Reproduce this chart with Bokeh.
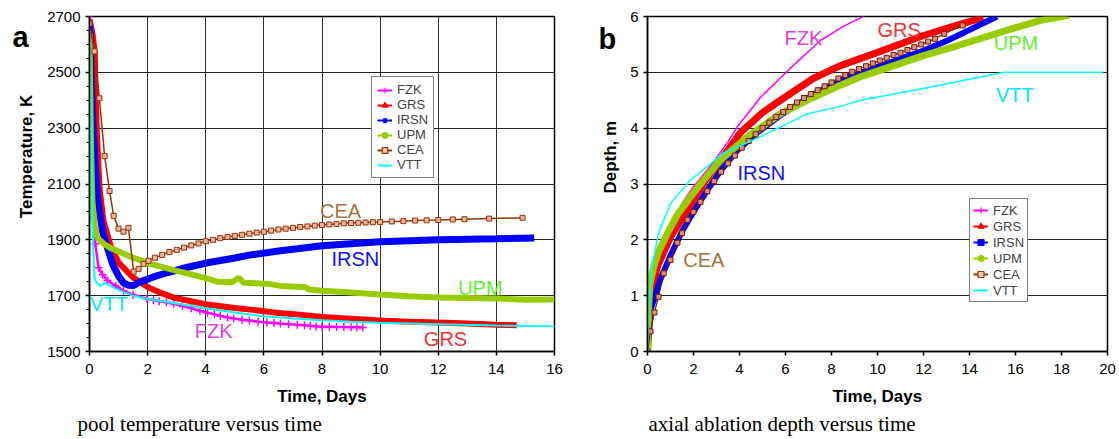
import math
from bokeh.plotting import figure
from bokeh.models import Range1d, FixedTicker, Legend, LegendItem, Label, Title
from bokeh.core.properties import value
from bokeh.layouts import row
from bokeh.embed import file_html
from bokeh.resources import INLINE

# ---------------- data: panel a (pool temperature, K vs days) ----------------
series_names = ["FZK", "GRS", "IRSN", "UPM", "CEA", "VTT"]

fzk_t_a = [0, 0.05, 0.1, 0.14, 0.2, 0.31, 0.45, 0.62, 0.9, 1.17, 1.5, 1.98, 2.2, 2.4, 2.65, 2.9, 3.2, 3.5, 3.8,
           4.06, 4.3, 4.5, 4.75, 4.96, 5.25, 5.5, 5.8, 6.1, 6.35, 6.57, 6.85, 7.15, 7.4, 7.6, 7.8, 8.0, 8.25,
           8.5, 8.75, 9.0, 9.2, 9.4]
fzk_T_a = [2700, 2400, 2100, 1980, 1886, 1800, 1775, 1754, 1735, 1718, 1703, 1689, 1684, 1680, 1676, 1671, 1663,
           1655, 1646, 1639, 1633, 1628, 1622, 1618, 1614, 1611, 1607, 1604, 1602, 1600, 1598, 1596, 1594, 1592,
           1590, 1589, 1588.5, 1588, 1587.5, 1587, 1586.5, 1586]

grs_t_a = [0, 0.1, 0.18, 0.21, 0.25, 0.3, 0.35, 0.48, 0.72, 1.0, 1.5, 2.03, 2.5, 2.9, 3.5, 4.06, 5.0, 5.54, 6.5,
           7.15, 8.0, 9.0, 10.0, 11.0, 12.0, 13.0, 14.0, 14.7]
grs_T_a = [2690, 2640, 2575, 2425, 2290, 2180, 2080, 1968, 1880, 1818, 1765, 1729, 1708, 1693, 1680, 1668, 1656,
           1650, 1638, 1633, 1624, 1617, 1611, 1607, 1604, 1600, 1596, 1594]

irsn_t_a = [0, 0.05, 0.1, 0.2, 0.3, 0.45, 0.62, 0.8, 1.0, 1.17, 1.35, 1.5, 1.7, 1.86, 2.2, 2.67, 3.3, 4.06, 5.0,
            5.54, 6.57, 7.15, 8.0, 9.0, 10.0, 11.0, 12.0, 13.0, 14.0, 15.3]
irsn_T_a = [2680, 2500, 2360, 2160, 2030, 1930, 1871, 1812, 1770, 1746, 1737, 1736, 1747, 1754, 1767, 1782, 1800,
            1818, 1835, 1846, 1861, 1868, 1879, 1886, 1893, 1897, 1900, 1902, 1904, 1907]

upm_t_a = [0, 0.03, 0.06, 0.1, 0.18, 0.27, 0.5, 0.72, 1.0, 1.5, 2.1, 3.0, 3.5, 4.06, 4.4, 4.9, 5.14, 5.3, 6.1,
           6.57, 7.15, 7.45, 7.55, 8.0, 9.0, 10.0, 11.0, 12.0, 13.0, 14.0, 15.0, 16.0]
upm_T_a = [2640, 2400, 2200, 2040, 1950, 1907, 1885, 1871, 1858, 1836, 1814, 1789, 1776, 1761, 1750, 1748, 1764,
           1746, 1743, 1735, 1732, 1730, 1722, 1718, 1711, 1704, 1698, 1693, 1692, 1690, 1685, 1686]

cea_t_a = [0, 0.17, 0.34, 0.52, 0.69, 0.83, 1.0, 1.17, 1.34, 1.52, 1.69, 1.86, 2.03, 2.25, 2.5, 2.75, 3.0, 3.25,
           3.5, 3.75, 4.0, 4.25, 4.5, 4.75, 5.0, 5.25, 5.5, 5.75, 6.0, 6.25, 6.5, 6.75, 7.0, 7.25, 7.5, 7.75, 8.0,
           8.25, 8.5, 8.75, 9.0, 9.25, 9.5, 9.75, 10.0, 10.4, 10.8, 11.2, 11.6, 12.0, 12.5, 12.9, 13.75, 14.9]
cea_T_a = [2675, 2575, 2407, 2200, 2075, 1986, 1940, 1929, 1943, 1786, 1796, 1814, 1825, 1836, 1846, 1856, 1864,
           1872, 1880, 1887, 1895, 1900, 1906, 1910, 1914, 1918, 1922, 1926, 1929, 1933, 1937, 1940, 1943, 1946,
           1948, 1951, 1953, 1955, 1957, 1959, 1960, 1961, 1962, 1963, 1964, 1966, 1967, 1969, 1970, 1971, 1973,
           1974, 1976, 1979]

vtt_t_a = [0, 0.05, 0.1, 0.17, 0.25, 0.38, 0.55, 0.83, 1.2, 1.5, 2.0, 3.0, 4.0, 5.0, 6.0, 7.0, 8.0, 9.0, 10.0,
           12.0, 14.0, 16.0]
vtt_T_a = [2650, 2300, 1950, 1764, 1745, 1736, 1746, 1729, 1712, 1700, 1688, 1672, 1655, 1640, 1626, 1618, 1612,
           1607, 1603, 1598, 1593, 1590]

# ---------------- data: panel b (axial ablation depth, m vs days) ----------------
fzk_t_b = [0, 0.2, 0.5, 1.0, 1.5, 2.0, 2.5, 2.83, 3.5, 3.9, 4.91, 6.2, 7.52, 8.5, 9.38]
fzk_d_b = [0, 0.9, 1.5, 2.2, 2.65, 2.95, 3.2, 3.37, 3.76, 4.02, 4.55, 5.07, 5.57, 5.82, 6.0]

grs_t_b = [0, 0.13, 0.43, 1.0, 1.74, 2.5, 3.17, 4.04, 5.0, 5.78, 7.2, 8.39, 9.83, 12.0, 13.5, 14.6]
grs_d_b = [0, 1.0, 1.52, 2.05, 2.54, 3.05, 3.42, 3.92, 4.28, 4.5, 4.89, 5.12, 5.33, 5.66, 5.85, 5.98]

irsn_t_b = [0, 0.13, 0.3, 0.57, 1.0, 1.5, 2.0, 2.6, 3.2, 3.9, 4.8, 5.78, 7.2, 8.39, 9.26, 9.83, 11.0, 12.0, 13.0,
            14.0, 15.2]
irsn_d_b = [0, 0.75, 0.95, 1.3, 1.72, 2.15, 2.5, 2.89, 3.25, 3.6, 3.93, 4.23, 4.6, 4.86, 4.99, 5.07, 5.24, 5.39,
            5.56, 5.76, 6.0]

upm_t_b = [0, 0.05, 0.1, 0.27, 0.5, 0.87, 1.3, 1.87, 2.5, 3.17, 4.34, 5.78, 7.2, 8.39, 9.26, 9.83, 12.0, 13.5,
           14.9, 16.0, 17.1, 18.3]
upm_d_b = [0, 0.8, 1.2, 1.52, 1.8, 2.12, 2.45, 2.77, 3.1, 3.43, 3.84, 4.26, 4.55, 4.77, 4.92, 5.0, 5.3, 5.48,
           5.66, 5.8, 5.93, 6.02]

cea_t_b = [0, 0.13, 0.3, 0.48, 0.7, 1.0, 1.3, 1.5, 1.74, 2.0, 2.3, 2.6, 2.9, 3.2, 3.5, 3.8, 4.1, 4.4, 4.7, 5.0,
           5.3, 5.6, 5.9, 6.2, 6.5, 6.8, 7.1, 7.4, 7.7, 8.0, 8.3, 8.6, 8.9, 9.2, 9.5, 9.8, 10.1, 10.4, 10.7, 11.0,
           11.3, 11.6, 11.9, 12.2, 12.5, 12.9, 13.7]
cea_d_b = [0, 0.36, 0.70, 0.98, 1.40, 1.64, 1.95, 2.12, 2.36, 2.50, 2.68, 2.87, 3.05, 3.22, 3.37, 3.51, 3.65,
           3.77, 3.89, 4.00, 4.10, 4.20, 4.29, 4.38, 4.46, 4.54, 4.61, 4.68, 4.75, 4.82, 4.89, 4.95, 5.01, 5.06,
           5.11, 5.16, 5.21, 5.26, 5.31, 5.35, 5.40, 5.45, 5.50, 5.55, 5.60, 5.69, 5.84]

vtt_t_b = [0, 0.05, 0.2, 0.48, 1.0, 1.4, 1.87, 3.3, 4.6, 5.78, 6.96, 8.39, 9.26, 12.0, 15.5, 19.8]
vtt_d_b = [0, 0.8, 1.52, 2.12, 2.65, 2.85, 3.07, 3.55, 3.79, 4.02, 4.26, 4.39, 4.5, 4.71, 5.0, 5.0]

# ticks and texts
x_ticks_a = [0, 2, 4, 6, 8, 10, 12, 14, 16]
y_ticks_a = [1500, 1700, 1900, 2100, 2300, 2500, 2700]
y_minor_a = [1500 + 50 * i for i in range(25)]
x_ticks_b = [0, 2, 4, 6, 8, 10, 12, 14, 16, 18, 20]
y_ticks_b = [0, 1, 2, 3, 4, 5, 6]
x_label = "Time, Days"
y_label_a = "Temperature, K"
y_label_b = "Depth, m"
caption_a = "pool temperature versus time"
caption_b = "axial ablation depth versus time"

# ---------------- styles ----------------
SANS = "Liberation Sans"
SERIF = "Liberation Serif"
COL = {"FZK": "#ff00ff", "GRS": "#ff0000", "IRSN": "#0000ff", "UPM": "#99cc00", "CEA": "#993300", "VTT": "#00ffff"}
LBL = {"FZK": "#e040e0", "GRS": "#ee3333", "IRSN": "#1010ff", "UPM": "#66ee33", "CEA": "#a8703c", "VTT": "#00e8ff"}
H = 438


def strip_fig(width, letter, letter_x, letter_y, ylab, ylab_x, ylab_y):
    s = figure(width=width, height=H, x_range=Range1d(0, width), y_range=Range1d(0, H),
               output_backend="svg", toolbar_location=None, x_axis_type=None, y_axis_type=None,
               min_border=0, min_border_left=0, min_border_right=0, min_border_top=0, min_border_bottom=0)
    s.outline_line_color = None
    s.xgrid.grid_line_color = None
    s.ygrid.grid_line_color = None
    s.text(x=[letter_x], y=[letter_y], text=[letter], text_font=value(SANS), text_font_size="29px",
           text_font_style="bold", text_color="black", text_align="left", text_baseline="alphabetic")
    s.text(x=[ylab_x], y=[ylab_y], text=[ylab], angle=math.pi / 2, text_font=value(SANS),
           text_font_size="17px", text_font_style="bold", text_color="black", text_align="center",
           text_baseline="alphabetic")
    return s


def base_fig(width, bl, br, bt, bb, xr, yr, xt, yt, ym):
    p = figure(width=width, height=H, x_range=Range1d(*xr), y_range=Range1d(*yr),
               output_backend="svg", toolbar_location=None,
               min_border_left=bl, min_border_right=br, min_border_top=bt, min_border_bottom=bb)
    p.background_fill_color = "white"
    p.border_fill_color = "white"
    p.outline_line_color = "black"
    p.outline_line_width = 1.5
    p.xaxis.ticker = FixedTicker(ticks=xt)
    p.yaxis.ticker = FixedTicker(ticks=yt, minor_ticks=ym)
    for ax in (p.xaxis, p.yaxis):
        ax.axis_line_color = "black"
        ax.axis_line_width = 1.5
        ax.major_tick_line_color = "black"
        ax.major_tick_line_width = 1.5
        ax.major_tick_out = 4
        ax.major_tick_in = 0
        ax.minor_tick_line_color = "black"
        ax.minor_tick_out = 3
        ax.minor_tick_in = 0
        ax.major_label_text_font = SANS
        ax.major_label_text_font_size = "15px"
        ax.major_label_text_color = "black"
        ax.axis_label_text_font = SANS
        ax.axis_label_text_font_size = "17px"
        ax.axis_label_text_font_style = "bold"
        ax.axis_label_text_color = "black"
    p.xaxis.major_label_standoff = 8
    p.xaxis.axis_label = x_label
    p.xaxis.axis_label_standoff = 10
    p.ygrid.grid_line_color = "#222222"
    p.ygrid.grid_line_width = 1
    return p


def legend_items(p, data, markers, msize):
    items = []
    for name in series_names:
        xs, ys = data[name]
        rs = [p.line(xs, ys, line_color=COL[name], line_width=2, visible=False)]
        m = markers.get(name)
        if m:
            rs.append(p.scatter(xs, ys, marker=m, size=msize, line_color=COL[name],
                                fill_color="#f0c8b8" if name == "CEA" else COL[name],
                                line_width=1.2, visible=False))
        items.append(LegendItem(label=name, renderers=rs))
    return items


def style_legend(leg, lh, pad):
    leg.label_text_font = SANS
    leg.label_text_font_size = "13px"
    leg.label_height = lh
    leg.glyph_height = lh
    leg.glyph_width = 15
    leg.label_standoff = 5
    leg.spacing = 0
    leg.padding = pad
    leg.margin = 0
    leg.border_line_color = "black"
    leg.border_line_width = 1
    leg.background_fill_alpha = 1
    leg.click_policy = "none"


# ---------------- panel a ----------------
sa = strip_fig(38, "a", 12, H - 27, y_label_a, 26, H - 183)
pa = base_fig(542, 51, 26, 15, H - 351, (0, 16), (1500, 2700), x_ticks_a, y_ticks_a, y_minor_a)
pa.xgrid.grid_line_color = "#333333"
pa.xgrid.grid_line_width = 1

pa.line(fzk_t_a, fzk_T_a, line_color=COL["FZK"], line_width=2.5)
pa.scatter(fzk_t_a, fzk_T_a, marker="cross", size=8, line_color=COL["FZK"], line_width=1.5)
pa.line(grs_t_a, grs_T_a, line_color=COL["GRS"], line_width=6)
pa.line(irsn_t_a, irsn_T_a, line_color=COL["IRSN"], line_width=7)
pa.line(upm_t_a, upm_T_a, line_color=COL["UPM"], line_width=6)
pa.line(cea_t_a, cea_T_a, line_color=COL["CEA"], line_width=1.5)
pa.scatter(cea_t_a, cea_T_a, marker="square", size=5, line_color=COL["CEA"], fill_color="#e8b4a4", line_width=1)
pa.line(vtt_t_a, vtt_T_a, line_color=COL["VTT"], line_width=2)

data_a = {"FZK": (fzk_t_a, fzk_T_a), "GRS": (grs_t_a, grs_T_a), "IRSN": (irsn_t_a, irsn_T_a),
          "UPM": (upm_t_a, upm_T_a), "CEA": (cea_t_a, cea_T_a), "VTT": (vtt_t_a, vtt_T_a)}
leg_a = Legend(items=legend_items(pa, data_a, {"FZK": "cross", "GRS": "triangle", "IRSN": "asterisk",
                                               "UPM": "circle", "CEA": "square"}, 6),
               location=(282, 173), orientation="vertical")
style_legend(leg_a, 14, 5)
pa.add_layout(leg_a)

ann_a = {"CEA": (8.64, 2004), "IRSN": (9.15, 1832), "UPM": (13.45, 1729), "VTT": (0.02, 1671),
         "FZK": (4.27, 1575), "GRS": (12.25, 1546)}
for name, (x, y) in ann_a.items():
    pa.add_layout(Label(x=x, y=y, text=name, text_font=SANS, text_font_size="20px", text_color=LBL[name],
                        text_align="left" if name == "VTT" else "center", text_baseline="middle"))
pa.add_layout(Title(text=caption_a, align="left", offset=-12, text_font=SERIF, text_font_size="21px",
                    text_font_style="normal", text_color="black", standoff=2), "below")

# ---------------- panel b ----------------
sb = strip_fig(40, "b", 18, H - 30, y_label_b, 30, H - 184)
pb = base_fig(498, 27, 11, 16, H - 352, (0, 20), (0, 6), x_ticks_b, y_ticks_b, [])
pb.xgrid.grid_line_color = None

pb.line(fzk_t_b, fzk_d_b, line_color=COL["FZK"], line_width=1.5)
pb.line(grs_t_b, grs_d_b, line_color=COL["GRS"], line_width=7)
pb.line(irsn_t_b, irsn_d_b, line_color=COL["IRSN"], line_width=6)
pb.line(upm_t_b, upm_d_b, line_color=COL["UPM"], line_width=7)
pb.line(cea_t_b, cea_d_b, line_color="#7a1a00", line_width=1.2)
pb.scatter(cea_t_b, cea_d_b, marker="square", size=5, line_color="#7a1a00", fill_color="#d89080", line_width=1)
pb.line(vtt_t_b, vtt_d_b, line_color=COL["VTT"], line_width=1.5)

data_b = {"FZK": (fzk_t_b, fzk_d_b), "GRS": (grs_t_b, grs_d_b), "IRSN": (irsn_t_b, irsn_d_b),
          "UPM": (upm_t_b, upm_d_b), "CEA": (cea_t_b, cea_d_b), "VTT": (vtt_t_b, vtt_d_b)}
leg_b = Legend(items=legend_items(pb, data_b, {"FZK": "cross", "GRS": "triangle", "IRSN": "square",
                                               "UPM": "circle", "CEA": "square"}, 5),
               location=(322, 49), orientation="vertical")
style_legend(leg_b, 16, 3)
pb.add_layout(leg_b)

ann_b = {"FZK": (6.78, 5.61), "GRS": (10.94, 5.75), "UPM": (16.02, 5.52), "VTT": (15.97, 4.59),
         "IRSN": (4.95, 3.2), "CEA": (2.45, 1.63)}
for name, (x, y) in ann_b.items():
    pb.add_layout(Label(x=x, y=y, text=name, text_font=SANS, text_font_size="20px", text_color=LBL[name],
                        text_align="center", text_baseline="middle"))
pb.add_layout(Title(text=caption_b, align="left", offset=1, text_font=SERIF, text_font_size="21px",
                    text_font_style="normal", text_color="black", standoff=2), "below")

layout = row(sa, pa, sb, pb, spacing=0)
open("out.html", "w").write(file_html(layout, INLINE))
